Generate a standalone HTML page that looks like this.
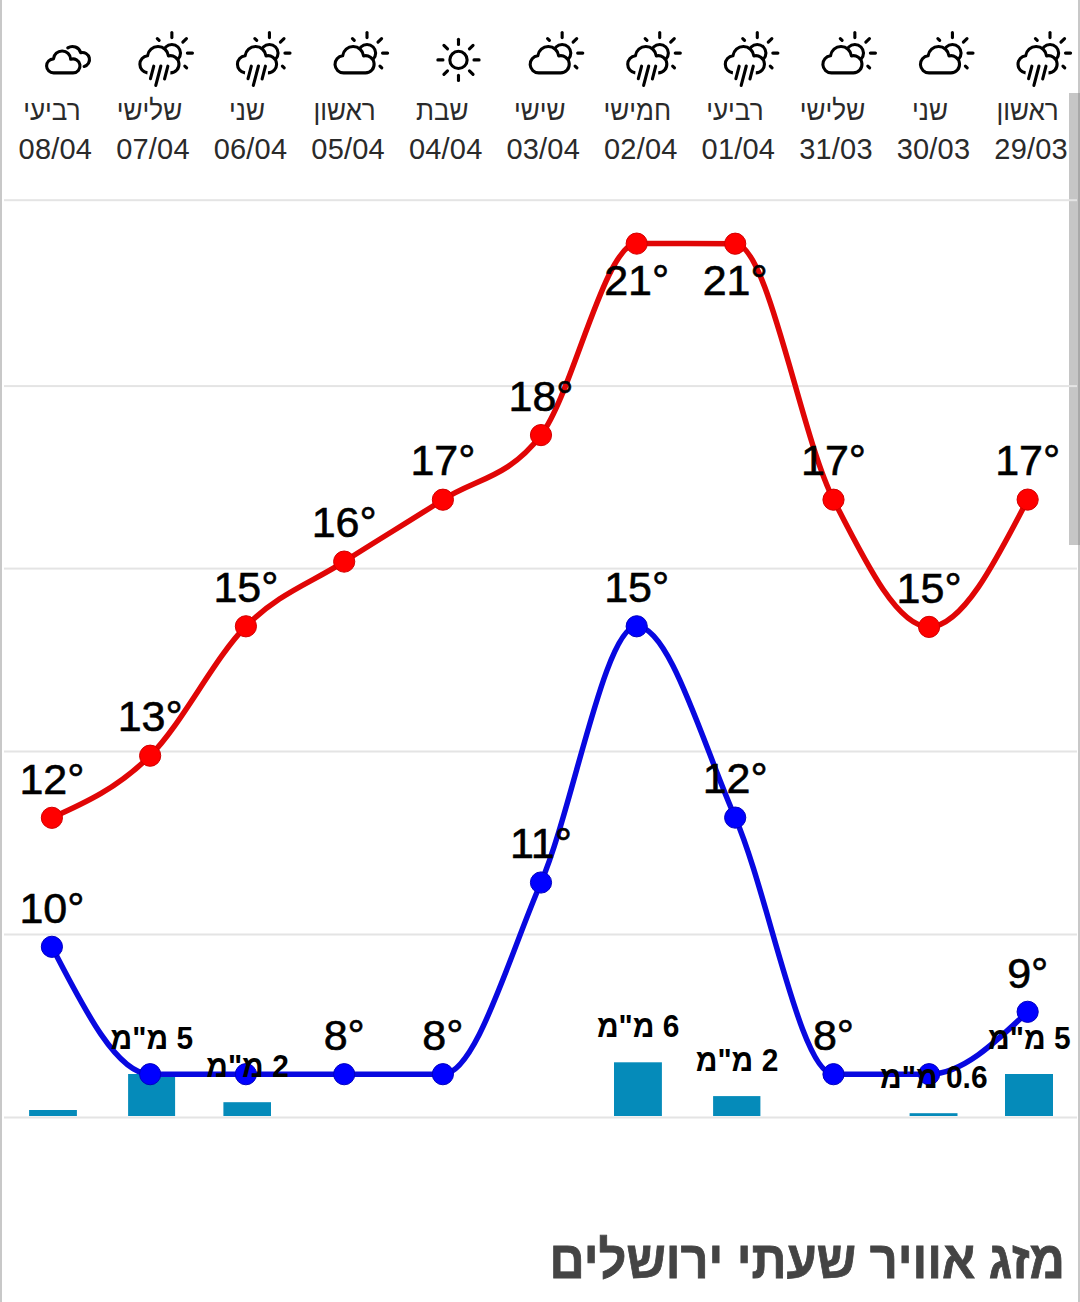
<!DOCTYPE html>
<html lang="he"><head><meta charset="utf-8"><title>מזג אוויר שעתי ירושלים</title>
<style>
html,body{margin:0;padding:0;background:#fff;}
body{width:1080px;height:1302px;position:relative;overflow:hidden;font-family:"Liberation Sans","DejaVu Sans",sans-serif;}
.bl{position:absolute;left:0;top:0;width:2px;height:1302px;background:#c8c8c8;}
.br{position:absolute;left:1078px;top:0;width:2px;height:1302px;background:#c8c8c8;}
.sb{position:absolute;left:1069px;top:93px;width:9px;height:452px;background:#c6c6c6;}
.sb2{position:absolute;left:1078px;top:93px;width:2px;height:452px;background:#a9a9a9;}
svg{position:absolute;left:0;top:0;}
.dn{font-size:28px;fill:#2a2a2a;}
.dt{font-size:29px;fill:#2a2a2a;letter-spacing:0.2px;}
.tl{font-size:43px;fill:#000;stroke:#000;stroke-width:0.6px;}
.rl{font-size:32px;font-weight:bold;fill:#000;}
.ti{font-size:52px;font-weight:bold;fill:#444;stroke:#444;stroke-width:0.8px;}
</style></head><body>
<div class="bl"></div><div class="br"></div><div class="sb"></div><div class="sb2"></div>

<svg width="1080" height="1302" viewBox="0 0 1080 1302">
<rect x="4" y="199.2" width="1073" height="2" fill="#e4e4e4"/>
<rect x="4" y="385.1" width="1073" height="2" fill="#e4e4e4"/>
<rect x="4" y="567.6" width="1073" height="2" fill="#e4e4e4"/>
<rect x="4" y="750.5" width="1073" height="2" fill="#e4e4e4"/>
<rect x="4" y="933.5" width="1073" height="2" fill="#e4e4e4"/>
<rect x="4" y="1116.5" width="1073" height="2" fill="#e4e4e4"/>
<rect x="29.1" y="1110.0" width="47.8" height="6.0" fill="#058bba"/>
<rect x="128.1" y="1074.0" width="47.0" height="42.0" fill="#058bba"/>
<rect x="223.4" y="1102.2" width="47.6" height="13.8" fill="#058bba"/>
<rect x="614.0" y="1062.3" width="47.9" height="53.7" fill="#058bba"/>
<rect x="713.1" y="1096.1" width="47.3" height="19.9" fill="#058bba"/>
<rect x="909.6" y="1113.2" width="47.9" height="2.8" fill="#058bba"/>
<rect x="1005.0" y="1074.0" width="48.0" height="42.0" fill="#058bba"/>
<path d="M51.90 817.80 C84.65 803.07 117.40 788.33 150.15 755.70 C182.07 723.90 213.98 658.52 245.90 626.30 C278.67 593.23 311.43 582.66 344.20 561.60 C377.10 540.46 410.00 520.85 442.90 499.70 C475.60 478.68 508.30 478.17 541.00 435.10 C572.90 393.09 604.80 243.60 636.70 243.60 C669.53 243.60 702.37 243.63 735.20 243.70 C767.97 243.77 800.73 435.53 833.50 499.70 C865.37 562.11 897.23 626.90 929.10 626.90 C961.95 626.90 994.80 563.25 1027.65 499.60" fill="none" stroke="#e00606" stroke-width="5.5"/>
<path d="M51.90 946.80 C84.65 1010.50 117.40 1074.20 150.15 1074.20 C182.07 1074.20 213.98 1074.20 245.90 1074.20 C278.67 1074.20 311.43 1074.20 344.20 1074.20 C377.10 1074.20 410.00 1074.20 442.90 1074.20 C475.60 1074.20 508.30 958.37 541.00 882.50 C572.90 808.49 604.80 626.30 636.70 626.30 C669.53 626.30 702.37 742.85 735.20 817.60 C767.97 892.20 800.73 1074.20 833.50 1074.20 C865.37 1074.20 897.23 1074.20 929.10 1074.20 C961.95 1074.20 994.80 1043.00 1027.65 1011.80" fill="none" stroke="#0808e0" stroke-width="5.5"/>
<circle cx="51.90" cy="817.80" r="10.6" fill="#ff0000" stroke="#d20000" stroke-width="1"/>
<circle cx="150.15" cy="755.70" r="10.6" fill="#ff0000" stroke="#d20000" stroke-width="1"/>
<circle cx="245.90" cy="626.30" r="10.6" fill="#ff0000" stroke="#d20000" stroke-width="1"/>
<circle cx="344.20" cy="561.60" r="10.6" fill="#ff0000" stroke="#d20000" stroke-width="1"/>
<circle cx="442.90" cy="499.70" r="10.6" fill="#ff0000" stroke="#d20000" stroke-width="1"/>
<circle cx="541.00" cy="435.10" r="10.6" fill="#ff0000" stroke="#d20000" stroke-width="1"/>
<circle cx="636.70" cy="243.60" r="10.6" fill="#ff0000" stroke="#d20000" stroke-width="1"/>
<circle cx="735.20" cy="243.70" r="10.6" fill="#ff0000" stroke="#d20000" stroke-width="1"/>
<circle cx="833.50" cy="499.70" r="10.6" fill="#ff0000" stroke="#d20000" stroke-width="1"/>
<circle cx="929.10" cy="626.90" r="10.6" fill="#ff0000" stroke="#d20000" stroke-width="1"/>
<circle cx="1027.65" cy="499.60" r="10.6" fill="#ff0000" stroke="#d20000" stroke-width="1"/>
<circle cx="51.90" cy="946.80" r="10.6" fill="#0000ff" stroke="#0000c0" stroke-width="1"/>
<circle cx="150.15" cy="1074.20" r="10.6" fill="#0000ff" stroke="#0000c0" stroke-width="1"/>
<circle cx="245.90" cy="1074.20" r="10.6" fill="#0000ff" stroke="#0000c0" stroke-width="1"/>
<circle cx="344.20" cy="1074.20" r="10.6" fill="#0000ff" stroke="#0000c0" stroke-width="1"/>
<circle cx="442.90" cy="1074.20" r="10.6" fill="#0000ff" stroke="#0000c0" stroke-width="1"/>
<circle cx="541.00" cy="882.50" r="10.6" fill="#0000ff" stroke="#0000c0" stroke-width="1"/>
<circle cx="636.70" cy="626.30" r="10.6" fill="#0000ff" stroke="#0000c0" stroke-width="1"/>
<circle cx="735.20" cy="817.60" r="10.6" fill="#0000ff" stroke="#0000c0" stroke-width="1"/>
<circle cx="833.50" cy="1074.20" r="10.6" fill="#0000ff" stroke="#0000c0" stroke-width="1"/>
<circle cx="929.10" cy="1074.20" r="10.6" fill="#0000ff" stroke="#0000c0" stroke-width="1"/>
<circle cx="1027.65" cy="1011.80" r="10.6" fill="#0000ff" stroke="#0000c0" stroke-width="1"/>
<g fill="none" stroke="#000" stroke-width="3.1" stroke-linecap="round" stroke-linejoin="round">
<path d="M67.80 47.90 A8.58 8.58 0 0 1 80.70 52.71 A7.10 7.10 0 0 1 84.10 66.50"/><path fill="#fff" d="M53.70 72.90 A7.00 7.00 0 0 1 53.48 58.90 A8.60 8.60 0 0 1 70.65 59.31 A7.00 7.00 0 1 1 73.00 72.90 Z"/>
<circle cx="171.87" cy="53.10" r="8.65"/><line x1="171.87" y1="37.60" x2="171.87" y2="32.50"/><line x1="182.83" y1="42.14" x2="186.44" y2="38.53"/><line x1="187.37" y1="53.10" x2="192.47" y2="53.10"/><line x1="184.81" y1="66.04" x2="186.65" y2="67.88"/><line x1="159.14" y1="40.37" x2="157.30" y2="38.53"/><path fill="#fff" stroke-linecap="butt" d="M147.47 72.84 A8.60 8.60 0 0 1 147.54 55.75 A10.50 10.50 0 0 1 168.41 55.93 A8.60 8.60 0 1 1 170.37 72.90"/><line x1="153.77" y1="66.20" x2="150.47" y2="78.70"/><line x1="160.87" y1="66.00" x2="155.77" y2="85.40"/><line x1="167.87" y1="66.20" x2="164.57" y2="78.90"/>
<circle cx="269.44" cy="53.10" r="8.65"/><line x1="269.44" y1="37.60" x2="269.44" y2="32.50"/><line x1="280.40" y1="42.14" x2="284.01" y2="38.53"/><line x1="284.94" y1="53.10" x2="290.04" y2="53.10"/><line x1="282.38" y1="66.04" x2="284.22" y2="67.88"/><line x1="256.71" y1="40.37" x2="254.87" y2="38.53"/><path fill="#fff" stroke-linecap="butt" d="M245.04 72.84 A8.60 8.60 0 0 1 245.11 55.75 A10.50 10.50 0 0 1 265.98 55.93 A8.60 8.60 0 1 1 267.94 72.90"/><line x1="251.34" y1="66.20" x2="248.04" y2="78.70"/><line x1="258.44" y1="66.00" x2="253.34" y2="85.40"/><line x1="265.44" y1="66.20" x2="262.14" y2="78.90"/>
<circle cx="367.01" cy="53.10" r="8.65"/><line x1="367.01" y1="37.60" x2="367.01" y2="32.50"/><line x1="377.97" y1="42.14" x2="381.58" y2="38.53"/><line x1="382.51" y1="53.10" x2="387.61" y2="53.10"/><line x1="379.95" y1="66.04" x2="381.79" y2="67.88"/><line x1="354.28" y1="40.37" x2="352.44" y2="38.53"/><path fill="#fff" d="M343.61 72.90 A8.60 8.60 0 0 1 342.68 55.75 A10.50 10.50 0 0 1 363.55 55.93 A8.60 8.60 0 1 1 365.51 72.90 Z"/>
<circle cx="458.48" cy="59.90" r="8.65"/><line x1="458.48" y1="44.40" x2="458.48" y2="39.30"/><line x1="469.44" y1="48.94" x2="473.05" y2="45.33"/><line x1="473.98" y1="59.90" x2="479.08" y2="59.90"/><line x1="469.44" y1="70.86" x2="473.05" y2="74.47"/><line x1="458.48" y1="75.40" x2="458.48" y2="80.50"/><line x1="447.52" y1="70.86" x2="443.91" y2="74.47"/><line x1="442.98" y1="59.90" x2="437.88" y2="59.90"/><line x1="447.52" y1="48.94" x2="443.91" y2="45.33"/>
<circle cx="562.15" cy="53.10" r="8.65"/><line x1="562.15" y1="37.60" x2="562.15" y2="32.50"/><line x1="573.11" y1="42.14" x2="576.72" y2="38.53"/><line x1="577.65" y1="53.10" x2="582.75" y2="53.10"/><line x1="575.09" y1="66.04" x2="576.93" y2="67.88"/><line x1="549.42" y1="40.37" x2="547.58" y2="38.53"/><path fill="#fff" d="M538.75 72.90 A8.60 8.60 0 0 1 537.82 55.75 A10.50 10.50 0 0 1 558.69 55.93 A8.60 8.60 0 1 1 560.65 72.90 Z"/>
<circle cx="659.72" cy="53.10" r="8.65"/><line x1="659.72" y1="37.60" x2="659.72" y2="32.50"/><line x1="670.68" y1="42.14" x2="674.29" y2="38.53"/><line x1="675.22" y1="53.10" x2="680.32" y2="53.10"/><line x1="672.66" y1="66.04" x2="674.50" y2="67.88"/><line x1="646.99" y1="40.37" x2="645.15" y2="38.53"/><path fill="#fff" stroke-linecap="butt" d="M635.32 72.84 A8.60 8.60 0 0 1 635.39 55.75 A10.50 10.50 0 0 1 656.26 55.93 A8.60 8.60 0 1 1 658.22 72.90"/><line x1="641.62" y1="66.20" x2="638.32" y2="78.70"/><line x1="648.72" y1="66.00" x2="643.62" y2="85.40"/><line x1="655.72" y1="66.20" x2="652.42" y2="78.90"/>
<circle cx="757.29" cy="53.10" r="8.65"/><line x1="757.29" y1="37.60" x2="757.29" y2="32.50"/><line x1="768.25" y1="42.14" x2="771.86" y2="38.53"/><line x1="772.79" y1="53.10" x2="777.89" y2="53.10"/><line x1="770.23" y1="66.04" x2="772.07" y2="67.88"/><line x1="744.56" y1="40.37" x2="742.72" y2="38.53"/><path fill="#fff" stroke-linecap="butt" d="M732.89 72.84 A8.60 8.60 0 0 1 732.96 55.75 A10.50 10.50 0 0 1 753.83 55.93 A8.60 8.60 0 1 1 755.79 72.90"/><line x1="739.19" y1="66.20" x2="735.89" y2="78.70"/><line x1="746.29" y1="66.00" x2="741.19" y2="85.40"/><line x1="753.29" y1="66.20" x2="749.99" y2="78.90"/>
<circle cx="854.86" cy="53.10" r="8.65"/><line x1="854.86" y1="37.60" x2="854.86" y2="32.50"/><line x1="865.82" y1="42.14" x2="869.43" y2="38.53"/><line x1="870.36" y1="53.10" x2="875.46" y2="53.10"/><line x1="867.80" y1="66.04" x2="869.64" y2="67.88"/><line x1="842.13" y1="40.37" x2="840.29" y2="38.53"/><path fill="#fff" d="M831.46 72.90 A8.60 8.60 0 0 1 830.53 55.75 A10.50 10.50 0 0 1 851.40 55.93 A8.60 8.60 0 1 1 853.36 72.90 Z"/>
<circle cx="952.43" cy="53.10" r="8.65"/><line x1="952.43" y1="37.60" x2="952.43" y2="32.50"/><line x1="963.39" y1="42.14" x2="967.00" y2="38.53"/><line x1="967.93" y1="53.10" x2="973.03" y2="53.10"/><line x1="965.37" y1="66.04" x2="967.21" y2="67.88"/><line x1="939.70" y1="40.37" x2="937.86" y2="38.53"/><path fill="#fff" d="M929.03 72.90 A8.60 8.60 0 0 1 928.10 55.75 A10.50 10.50 0 0 1 948.97 55.93 A8.60 8.60 0 1 1 950.93 72.90 Z"/>
<circle cx="1050.00" cy="53.10" r="8.65"/><line x1="1050.00" y1="37.60" x2="1050.00" y2="32.50"/><line x1="1060.96" y1="42.14" x2="1064.57" y2="38.53"/><line x1="1065.50" y1="53.10" x2="1070.60" y2="53.10"/><line x1="1062.94" y1="66.04" x2="1064.78" y2="67.88"/><line x1="1037.27" y1="40.37" x2="1035.43" y2="38.53"/><path fill="#fff" stroke-linecap="butt" d="M1025.60 72.84 A8.60 8.60 0 0 1 1025.67 55.75 A10.50 10.50 0 0 1 1046.54 55.93 A8.60 8.60 0 1 1 1048.50 72.90"/><line x1="1031.90" y1="66.20" x2="1028.60" y2="78.70"/><line x1="1039.00" y1="66.00" x2="1033.90" y2="85.40"/><line x1="1046.00" y1="66.20" x2="1042.70" y2="78.90"/>
</g>
</svg>
<svg width="1080" height="1302" viewBox="0 0 1080 1302" style="font-family:'Liberation Sans','DejaVu Sans',sans-serif">
<text x="51.9" y="119.6" text-anchor="middle" direction="rtl" class="dn" transform="translate(51.9 0) scale(0.930 1) translate(-51.9 0)">רביעי</text>
<text x="55.4" y="159.2" text-anchor="middle" class="dt">08/04</text>
<text x="149.5" y="119.6" text-anchor="middle" direction="rtl" class="dn" transform="translate(149.5 0) scale(0.930 1) translate(-149.5 0)">שלישי</text>
<text x="153.0" y="159.2" text-anchor="middle" class="dt">07/04</text>
<text x="247.0" y="119.6" text-anchor="middle" direction="rtl" class="dn" transform="translate(247.0 0) scale(0.930 1) translate(-247.0 0)">שני</text>
<text x="250.5" y="159.2" text-anchor="middle" class="dt">06/04</text>
<text x="344.6" y="119.6" text-anchor="middle" direction="rtl" class="dn" transform="translate(344.6 0) scale(0.930 1) translate(-344.6 0)">ראשון</text>
<text x="348.1" y="159.2" text-anchor="middle" class="dt">05/04</text>
<text x="442.2" y="119.6" text-anchor="middle" direction="rtl" class="dn" transform="translate(442.2 0) scale(0.930 1) translate(-442.2 0)">שבת</text>
<text x="445.7" y="159.2" text-anchor="middle" class="dt">04/04</text>
<text x="539.8" y="119.6" text-anchor="middle" direction="rtl" class="dn" transform="translate(539.8 0) scale(0.930 1) translate(-539.8 0)">שישי</text>
<text x="543.2" y="159.2" text-anchor="middle" class="dt">03/04</text>
<text x="637.3" y="119.6" text-anchor="middle" direction="rtl" class="dn" transform="translate(637.3 0) scale(0.930 1) translate(-637.3 0)">חמישי</text>
<text x="640.8" y="159.2" text-anchor="middle" class="dt">02/04</text>
<text x="734.9" y="119.6" text-anchor="middle" direction="rtl" class="dn" transform="translate(734.9 0) scale(0.930 1) translate(-734.9 0)">רביעי</text>
<text x="738.4" y="159.2" text-anchor="middle" class="dt">01/04</text>
<text x="832.5" y="119.6" text-anchor="middle" direction="rtl" class="dn" transform="translate(832.5 0) scale(0.930 1) translate(-832.5 0)">שלישי</text>
<text x="836.0" y="159.2" text-anchor="middle" class="dt">31/03</text>
<text x="930.0" y="119.6" text-anchor="middle" direction="rtl" class="dn" transform="translate(930.0 0) scale(0.930 1) translate(-930.0 0)">שני</text>
<text x="933.5" y="159.2" text-anchor="middle" class="dt">30/03</text>
<text x="1027.6" y="119.6" text-anchor="middle" direction="rtl" class="dn" transform="translate(1027.6 0) scale(0.930 1) translate(-1027.6 0)">ראשון</text>
<text x="1031.1" y="159.2" text-anchor="middle" class="dt">29/03</text>
<text x="51.9" y="793.5" text-anchor="middle" class="tl">12°</text>
<text x="150.2" y="731.4" text-anchor="middle" class="tl">13°</text>
<text x="245.9" y="602.0" text-anchor="middle" class="tl">15°</text>
<text x="344.2" y="537.3" text-anchor="middle" class="tl">16°</text>
<text x="442.9" y="475.4" text-anchor="middle" class="tl">17°</text>
<text x="541.0" y="410.8" text-anchor="middle" class="tl">18°</text>
<text x="636.7" y="295.0" text-anchor="middle" class="tl">21°</text>
<text x="735.2" y="295.1" text-anchor="middle" class="tl">21°</text>
<text x="833.5" y="475.4" text-anchor="middle" class="tl">17°</text>
<text x="929.1" y="602.6" text-anchor="middle" class="tl">15°</text>
<text x="1027.7" y="475.3" text-anchor="middle" class="tl">17°</text>
<text x="51.9" y="922.5" text-anchor="middle" class="tl">10°</text>
<text x="344.2" y="1049.9" text-anchor="middle" class="tl">8°</text>
<text x="442.9" y="1049.9" text-anchor="middle" class="tl">8°</text>
<text x="541.0" y="858.2" text-anchor="middle" class="tl">11°</text>
<text x="636.7" y="602.0" text-anchor="middle" class="tl">15°</text>
<text x="735.2" y="793.3" text-anchor="middle" class="tl">12°</text>
<text x="833.5" y="1049.9" text-anchor="middle" class="tl">8°</text>
<text x="1027.7" y="987.5" text-anchor="middle" class="tl">9°</text>
<text x="151.9" y="1048.7" text-anchor="middle" direction="rtl" class="rl" transform="translate(151.9 0) scale(0.935 1) translate(-151.9 0)">5 מ&quot;מ</text>
<text x="247.5" y="1076.9" text-anchor="middle" direction="rtl" class="rl" transform="translate(247.5 0) scale(0.935 1) translate(-247.5 0)">2 מ&quot;מ</text>
<text x="638.2" y="1037.0" text-anchor="middle" direction="rtl" class="rl" transform="translate(638.2 0) scale(0.935 1) translate(-638.2 0)">6 מ&quot;מ</text>
<text x="737.0" y="1070.8" text-anchor="middle" direction="rtl" class="rl" transform="translate(737.0 0) scale(0.935 1) translate(-737.0 0)">2 מ&quot;מ</text>
<text x="933.8" y="1087.9" text-anchor="middle" direction="rtl" class="rl" transform="translate(933.8 0) scale(0.935 1) translate(-933.8 0)">0.6 מ&quot;מ</text>
<text x="1029.3" y="1048.7" text-anchor="middle" direction="rtl" class="rl" transform="translate(1029.3 0) scale(0.935 1) translate(-1029.3 0)">5 מ&quot;מ</text>
<text x="1065.0" y="1277.8" text-anchor="end" class="ti" transform="translate(1065.0 0) scale(0.939 1) translate(-1065.0 0)">מזג אוויר שעתי ירושלים</text>
</svg>
</body></html>
